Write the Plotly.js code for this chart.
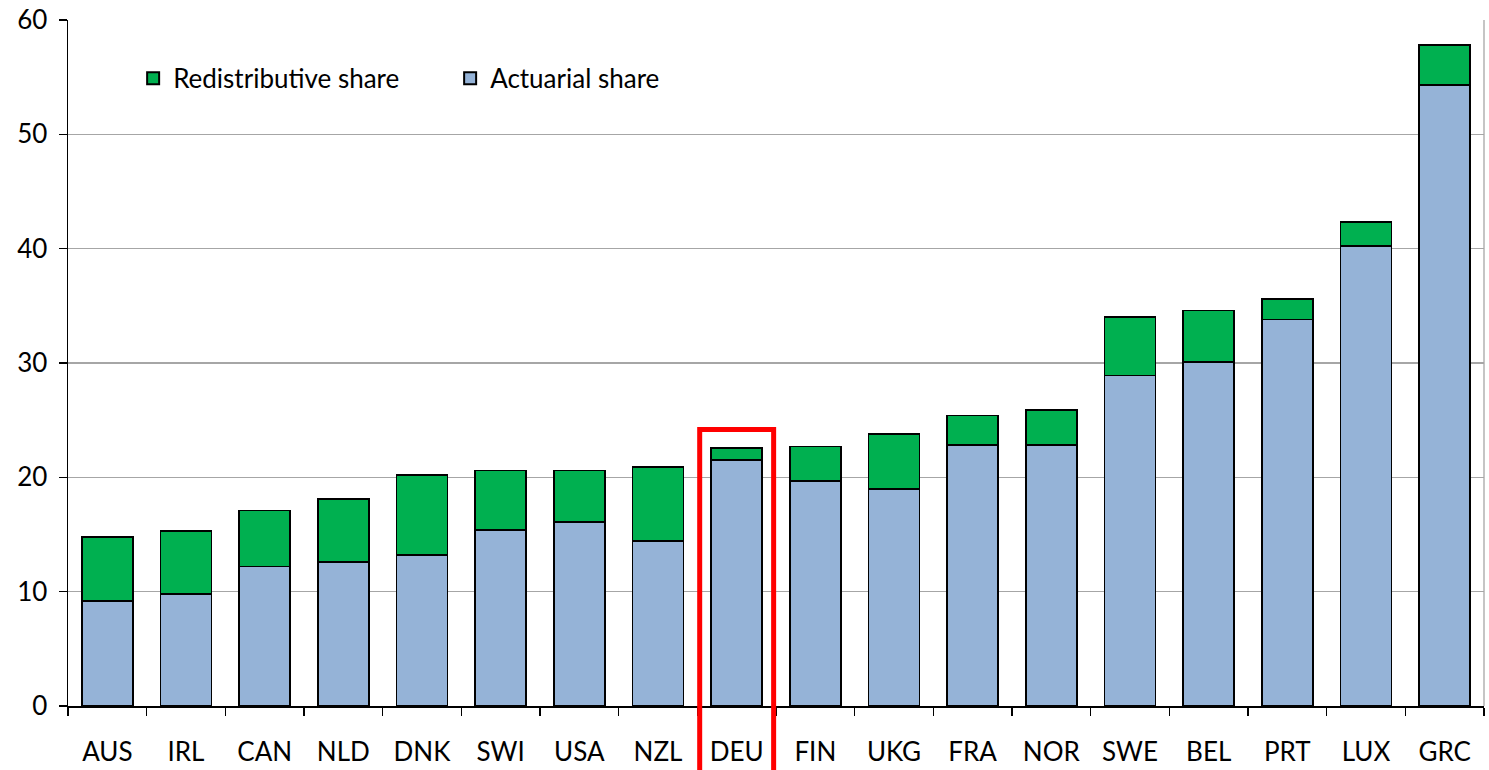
<!DOCTYPE html>
<html>
<head>
<meta charset="utf-8">
<script src="https://cdn.plot.ly/plotly-3.0.1.min.js"></script>
<style>html,body{margin:0;padding:0;background:#fff}#chart{width:1489px;height:770px}</style>
</head>
<body>
<div id="chart"></div>
<script>
const countries = ["AUS","IRL","CAN","NLD","DNK","SWI","USA","NZL","DEU","FIN","UKG","FRA","NOR","SWE","BEL","PRT","LUX","GRC"];
const actuarialShare = [9.2, 9.8, 12.2, 12.6, 13.2, 15.4, 16.1, 14.4, 21.5, 19.7, 19.0, 22.8, 22.8, 28.9, 30.1, 33.8, 40.2, 54.3];
const redistributiveShare = [5.6, 5.5, 4.9, 5.5, 7.0, 5.2, 4.5, 6.5, 1.1, 3.0, 4.8, 2.6, 3.1, 5.1, 4.5, 1.8, 2.1, 3.5];
const yTicks = [0, 10, 20, 30, 40, 50, 60];
const seriesNames = ["Actuarial share", "Redistributive share"];
const seriesColors = ["#95B3D7", "#00B050"];

const font = "Lato, 'Open Sans', sans-serif";
const barLine = {color:"#000", width:1.8};
const traces = [
  {type:"bar", name:seriesNames[0], x:countries, y:actuarialShare, showlegend:false,
   marker:{color:seriesColors[0], line:barLine}, width:0.65},
  {type:"bar", name:seriesNames[1], x:countries, y:redistributiveShare, showlegend:false,
   marker:{color:seriesColors[1], line:barLine}, width:0.65},
  // legend-only entries with larger square keys
  {type:"scatter", mode:"markers", name:seriesNames[0], x:[null], y:[null],
   marker:{symbol:"square", size:16, color:seriesColors[0], line:{color:"#000", width:1.5}}},
  {type:"scatter", mode:"markers", name:seriesNames[1], x:[null], y:[null],
   marker:{symbol:"square", size:16, color:seriesColors[1], line:{color:"#000", width:1.5}}}
];
const layout = {
  width:1489, height:770,
  margin:{l:68, r:5, t:20, b:64},
  barmode:"stack",
  paper_bgcolor:"#fff", plot_bgcolor:"#fff",
  font:{family:font, size:26, color:"#000"},
  showlegend:true,
  legend:{orientation:"h", x:0.046, y:0.915, xanchor:"left", yanchor:"middle",
          traceorder:"reversed", font:{family:font, size:26}, bgcolor:"rgba(0,0,0,0)",
          itemwidth:30, tracegroupgap:0, entrywidth:272, itemsizing:"constant"},
  xaxis:{type:"category", showline:true, linecolor:"#000", linewidth:1.5,
         ticks:"outside", tickson:"boundaries", ticklen:8, tickcolor:"#000", tickwidth:1.5,
         ticklabelstandoff:22, showgrid:false, zeroline:false, fixedrange:true,
         tickfont:{family:font, size:26}},
  yaxis:{range:[0,60], tickvals:yTicks, showline:true, linecolor:"#000", linewidth:1.5,
         ticks:"outside", ticklen:8, tickcolor:"#000", tickwidth:1.5,
         showgrid:true, gridcolor:"#A6A6A6", gridwidth:1.3, zeroline:false,
         ticklabelstandoff:6, tickfont:{family:font, size:26}},
  shapes:[
    {type:"line", xref:"paper", yref:"paper", x0:1, x1:1, y0:0, y1:1, line:{color:"#A6A6A6", width:1.3}},
    {type:"rect", xref:"x", yref:"paper", x0:7.53, x1:8.47, y0:-0.15, y1:0.403,
     line:{color:"#FF0000", width:5}, fillcolor:"rgba(0,0,0,0)", layer:"above"}
  ]
};
Plotly.newPlot("chart", traces, layout, {staticPlot:true, displayModeBar:false});
</script>
</body>
</html>
